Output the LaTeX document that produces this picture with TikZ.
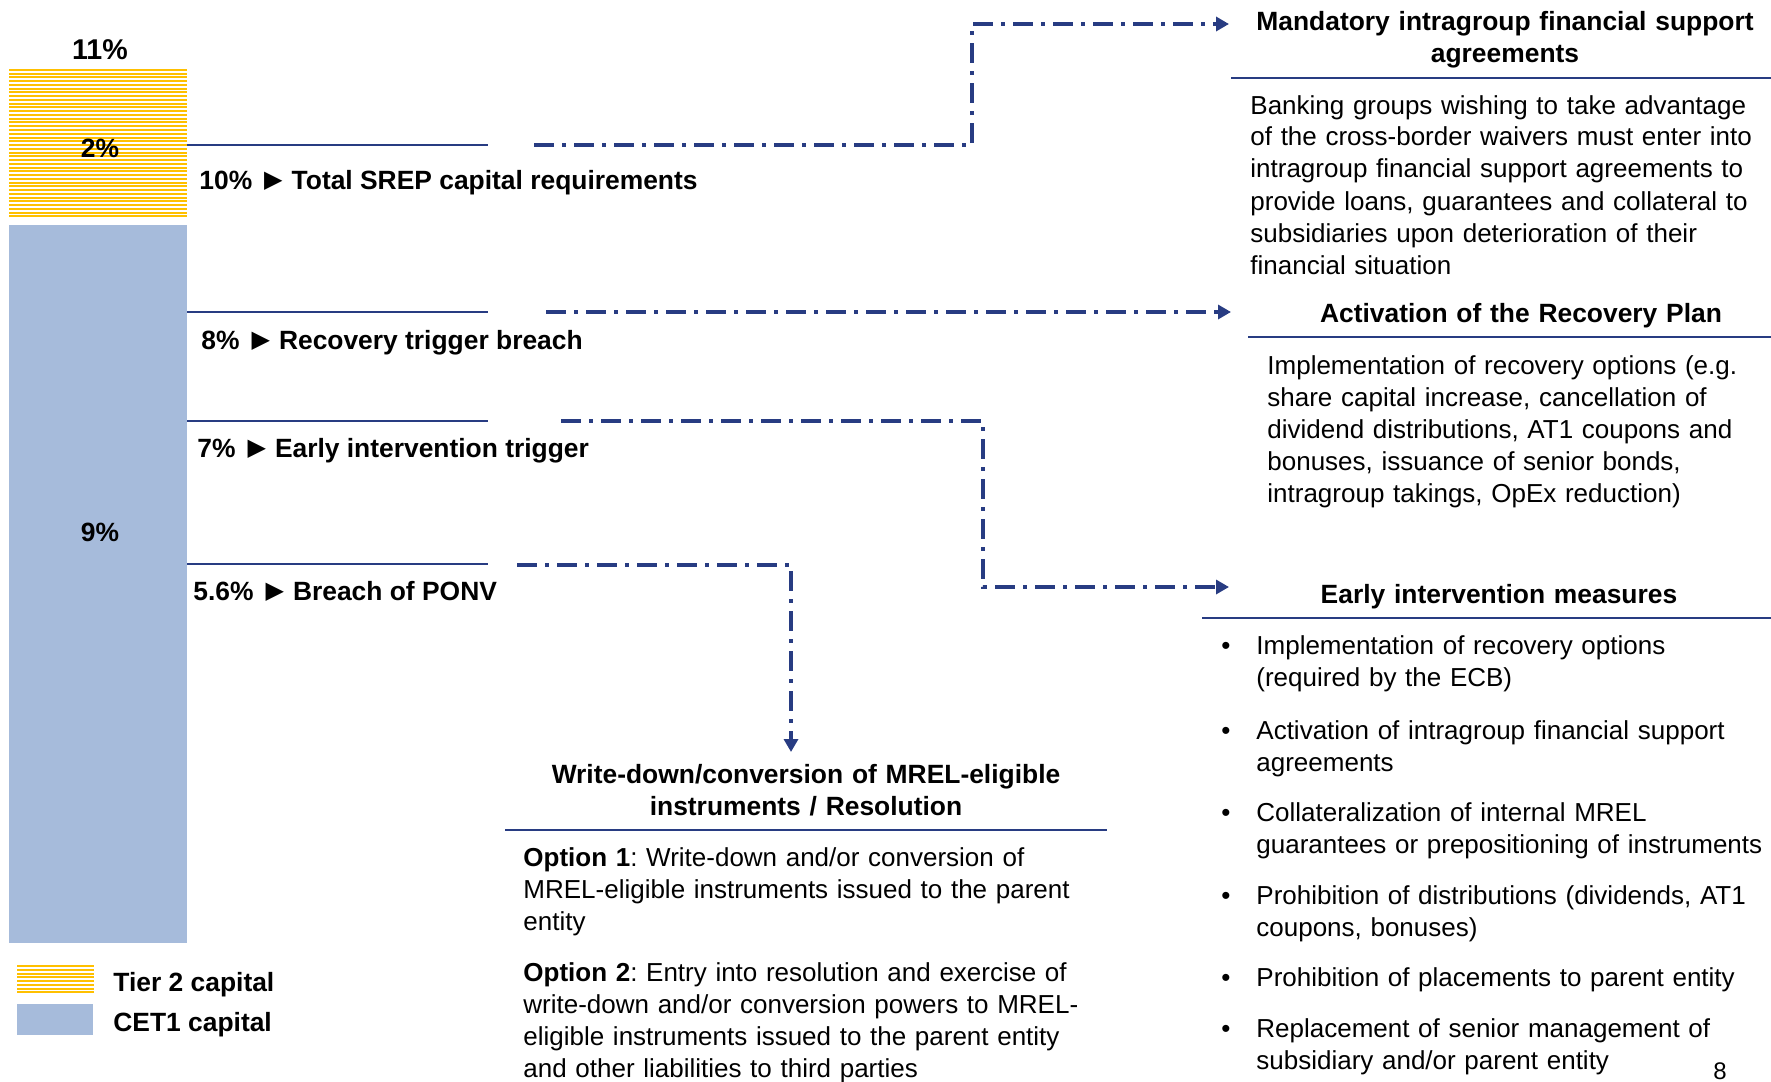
\documentclass[tikz,border=0pt]{standalone}
\usepackage{fontspec}
\setmainfont{Liberation Sans}
\newfontfamily\trifont{DejaVu Sans}
\usetikzlibrary{arrows.meta}

\definecolor{navy}{RGB}{40,60,130}
\definecolor{tiertwo}{RGB}{255,192,0}
\definecolor{cetone}{RGB}{166,187,219}

\newcommand{\ptr}{\hspace{6pt}\raisebox{1pt}{\trifont\fontsize{12pt}{14pt}\selectfont ▶}\hspace{4.5pt}}
\newcommand{\itm}{\llap{•\hspace{13pt}}}

\tikzset{
    txt/.style={inner sep=0pt, font=\fontsize{13pt}{16pt}\selectfont\frenchspacing},
    bold/.style={inner sep=0pt, font=\fontsize{13.2pt}{16pt}\selectfont\bfseries},
    level/.style={navy, line width=1pt},
    link/.style={navy, line width=1.8pt, dash pattern=on 10pt off 4pt on 2pt off 4pt,
        -{Triangle[length=6.5pt,width=7pt]}},
    rule/.style={navy, line width=1.3pt},
    head/.style={bold, text width=280pt, align=center, anchor=base},
    body/.style={txt, text width=290pt, align=left, anchor=base west},
}

\begin{document}
\begin{tikzpicture}[x=0.5pt,y=-0.5pt]
    \useasboundingbox (0,0) rectangle (1771,1081);

    % Capital bar
    \foreach \i in {0,...,39}
        \fill [tiertwo] (9,69+3.75*\i) rectangle (187,71+3.75*\i);
    \fill [cetone] (9,225) rectangle (187,943);
    \node (total) at (100,50) [bold,font=\fontsize{14.3pt}{16pt}\selectfont\bfseries] {11\%};
    \node (t2) at (100,148) [bold] {2\%};
    \node (cet1) at (100,532) [bold] {9\%};

    % Thresholds
    \coordinate (L10) at (187,145);
    \coordinate (L8) at (187,312);
    \coordinate (L7) at (187,421);
    \coordinate (L56) at (187,564);
    \draw [level] (L10) -- ++(301,0);
    \draw [level] (L8) -- ++(301,0);
    \draw [level] (L7) -- ++(301,0);
    \draw [level] (L56) -- ++(301,0);
    \node (srep) at (199,189) [bold,anchor=base west] {10\%\ptr Total SREP capital requirements};
    \node (recov) at (201,349) [bold,anchor=base west] {8\%\ptr Recovery trigger breach};
    \node (early) at (197,457) [bold,anchor=base west] {7\%\ptr Early intervention trigger};
    \node (ponv) at (193,600) [bold,anchor=base west] {5.6\%\ptr Breach of PONV};

    % Links to the measures
    \coordinate (s10) at (534,145);
    \coordinate (e10) at (1229,24);
    \coordinate (s8) at (546,312);
    \coordinate (e8) at (1231,312);
    \coordinate (s7) at (561,421);
    \coordinate (e7) at (1229,587);
    \coordinate (s56) at (517,565);
    \coordinate (e56) at (791,752);
    \draw [link] (s10) -- ++(438,0) |- (e10);
    \draw [link] (s8) -- (e8);
    \draw [link] (s7) -- ++(422,0) |- (e7);
    \draw [link] (s56) -| (e56);

    % Mandatory intragroup support
    \node (mand) at (1505,31) [head] {Mandatory intragroup financial support\\agreements};
    \draw [rule] (1231,78) -- (1771,78);
    \node (mandtext) at (1250,114) [body] {Banking groups wishing to take advantage\\
        of the cross-border waivers must enter into\\
        intragroup financial support agreements to\\
        provide loans, guarantees and collateral to\\
        subsidiaries upon deterioration of their\\
        financial situation};

    % Recovery plan
    \node (plan) at (1521,322) [head] {Activation of the Recovery Plan};
    \draw [rule] (1248,337) -- (1771,337);
    \node (plantext) at (1267,374) [body] {Implementation of recovery options (e.g.\\
        share capital increase, cancellation of\\
        dividend distributions, AT1 coupons and\\
        bonuses, issuance of senior bonds,\\
        intragroup takings, OpEx reduction)};

    % Early intervention measures
    \node (eim) at (1499,603) [head] {Early intervention measures};
    \draw [rule] (1202,618) -- (1771,618);
    \node (m1) at (1256,654) [body] {\itm Implementation of recovery options\\(required by the ECB)};
    \node (m2) at (1256,739) [body] {\itm Activation of intragroup financial support\\agreements};
    \node (m3) at (1256,821) [body] {\itm Collateralization of internal MREL\\guarantees or prepositioning of instruments};
    \node (m4) at (1256,904) [body] {\itm Prohibition of distributions (dividends, AT1\\coupons, bonuses)};
    \node (m5) at (1256,986) [body] {\itm Prohibition of placements to parent entity};
    \node (m6) at (1256,1037) [body] {\itm Replacement of senior management of\\subsidiary and/or parent entity};

    % Resolution
    \node (res) at (806,783) [head] {Write-down/conversion of MREL-eligible\\instruments / Resolution};
    \draw [rule] (505,830) -- (1107,830);
    \node (opt1) at (523,866) [body] {\textbf{Option 1}: Write-down and/or conversion of\\
        MREL-eligible instruments issued to the parent\\
        entity};
    \node (opt2) at (523,981) [body] {\textbf{Option 2}: Entry into resolution and exercise of\\
        write-down and/or conversion powers to MREL-\\
        eligible instruments issued to the parent entity\\
        and other liabilities to third parties};

    % Legend
    \foreach \i in {0,...,7}
        \fill [tiertwo] (17,965+3.75*\i) rectangle (94,967+3.75*\i);
    \fill [cetone] (17,1004) rectangle (93,1035);
    \node (tiertext) at (113,991) [bold,anchor=base west] {Tier 2 capital};
    \node (cettext) at (113,1031) [bold,anchor=base west] {CET1 capital};

    \node (page) at (1720,1071) [txt,font=\fontsize{12pt}{14pt}\selectfont] {8};
\end{tikzpicture}
\end{document}
